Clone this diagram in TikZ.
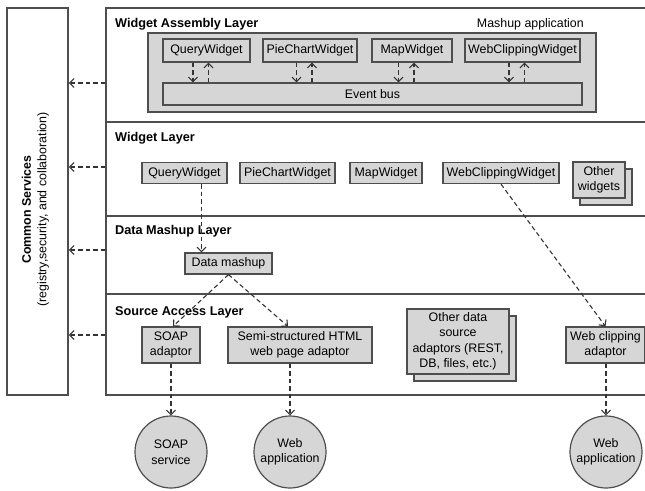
\documentclass[tikz,border=0pt]{standalone}
\usepackage{fontspec}
\setmainfont{Liberation Sans}
\usetikzlibrary{positioning,arrows.meta,shadows}

\definecolor{boxgray}{HTML}{D6D6D6}
\definecolor{linegray}{HTML}{4E4E4E}

\begin{document}
\begin{tikzpicture}[
        x=1pt,
        y=-1pt,
        font=\fontsize{12.4}{15.5}\selectfont,
        layer/.style={
            rectangle,
            draw=linegray,
            line width=1.6pt,
            minimum width=554pt,
            inner sep=0pt,
        },
        box/.style={
            rectangle,
            draw=linegray,
            fill=boxgray,
            line width=1.2pt,
            inner sep=1pt,
            minimum height=21pt,
            align=center,
        },
        tall/.style={
            minimum height=36pt,
        },
        stack/.style={
            copy shadow={shadow xshift=7pt, shadow yshift=-7pt},
        },
        svc/.style={
            circle,
            draw=linegray,
            fill=boxgray,
            line width=1.2pt,
            minimum size=72pt,
            inner sep=0pt,
            align=center,
        },
        head/.style={
            font=\fontsize{12.7}{14}\selectfont\bfseries,
            anchor=base west,
            inner sep=0pt,
        },
        dep/.style={
            draw=black!80,
            line width=1.1pt,
            dash pattern=on 4.5pt off 3pt,
            -{Straight Barb[length=4.5pt,width=9pt]},
        },
    ]
        \useasboundingbox (0,0) rectangle (645,490);

        % common services
        \node [layer, minimum width=61pt, minimum height=387pt] (common) at (37.5,201.5) {};
        \node [rotate=90, align=center] at ([xshift=-2pt,yshift=-8pt]common.center)
            {\bfseries Common Services\\(registry,security, and collaboration)};

        % layers
        \node [layer, minimum height=114pt] (lassembly) at (383,65) {};
        \node [layer, minimum height=94pt] (lwidget) at (383,169) {};
        \node [layer, minimum height=78pt] (lmashup) at (383,255) {};
        \node [layer, minimum height=101pt] (lsource) at (383,344.5) {};

        \node [head] at (115,27) {Widget Assembly Layer};
        \node [head] at (115,141) {Widget Layer};
        \node [head] at (115,234) {Data Mashup Layer};
        \node [head] at (115,315) {Source Access Layer};

        % widget assembly layer
        \node [box, line width=1.4pt, minimum width=448pt, minimum height=79pt] (mashup) at (372,72.5) {};
        \node [anchor=base east, inner sep=0pt] at (584,27) {Mashup application};

        \node [box, minimum width=87pt, minimum height=23pt] (aqw) at (206.5,50.5) {QueryWidget};
        \node [box, minimum width=94pt, minimum height=23pt] (apc) at (310,50.5) {PieChartWidget};
        \node [box, minimum width=80pt, minimum height=23pt] (amap) at (412,50.5) {MapWidget};
        \node [box, minimum width=115pt, minimum height=23pt] (awc) at (522.5,50.5) {WebClippingWidget};
        \node [box, minimum width=419pt, minimum height=22pt] (bus) at (372.5,94) {Event bus};

        \foreach \w in {aqw,apc,amap,awc} {
            \draw [dep] ([xshift=-13.5pt]\w.south) -- ([xshift=-13.5pt]\w.south |- bus.north);
            \draw [dep] ([xshift=2pt]\w.south |- bus.north) -- ([xshift=2pt]\w.south);
        }

        % widget layer
        \node [box, minimum width=85pt] (wqw) at (184.5,173) {QueryWidget};
        \node [box, minimum width=95pt] (wpc) at (287.5,173) {PieChartWidget};
        \node [box, minimum width=72pt] (wmap) at (386,173) {MapWidget};
        \node [box, minimum width=116pt] (wwc) at (501,173) {WebClippingWidget};
        \node [box, stack, minimum width=52pt, minimum height=36pt] (wother) at (599,180) {Other\\widgets};

        % data mashup layer
        \node [box, minimum width=87pt] (dm) at (228.5,263.5) {Data mashup};

        % source access layer
        \node [box, tall, minimum width=58pt] (soap) at (171,345) {SOAP\\adaptor};
        \node [box, tall, minimum width=144pt] (semi) at (300,345) {Semi-structured HTML\\web page adaptor};
        \node [box, stack, minimum width=102pt, minimum height=65pt] (other) at (458,341.5)
            {Other data\\source\\adaptors (REST,\\DB, files, etc.)};
        \node [box, tall, minimum width=79pt] (wca) at (605.5,345) {Web clipping\\adaptor};

        % sources
        \node [svc] (soapsvc) at (171,452) {SOAP\\service};
        \node [svc] (webapp) at (290,452) {Web\\application};
        \node [svc] (webclip) at (606,452) {Web\\application};

        % connectors
        \draw [dep] ([xshift=17pt]wqw.south) -- ([xshift=17pt]wqw.south |- dm.north);
        \draw [dep] (dm.south) -- ([xshift=2pt]soap.north);
        \draw [dep] (dm.south) -- ([xshift=-12pt]semi.north);
        \draw [dep] (wwc.south) -- (wca.north);
        \draw [dep] (soap.south) -- (soapsvc.north);
        \draw [dep] (webapp.north |- semi.south) -- (webapp.north);
        \draw [dep] (webclip.north |- wca.south) -- (webclip.north);

        \foreach \l/\y in {lassembly/83, lwidget/167, lmashup/250, lsource/335}
            \draw [dep] (\l.west |- 0,\y) -- (common.east |- 0,\y);
\end{tikzpicture}
\end{document}
